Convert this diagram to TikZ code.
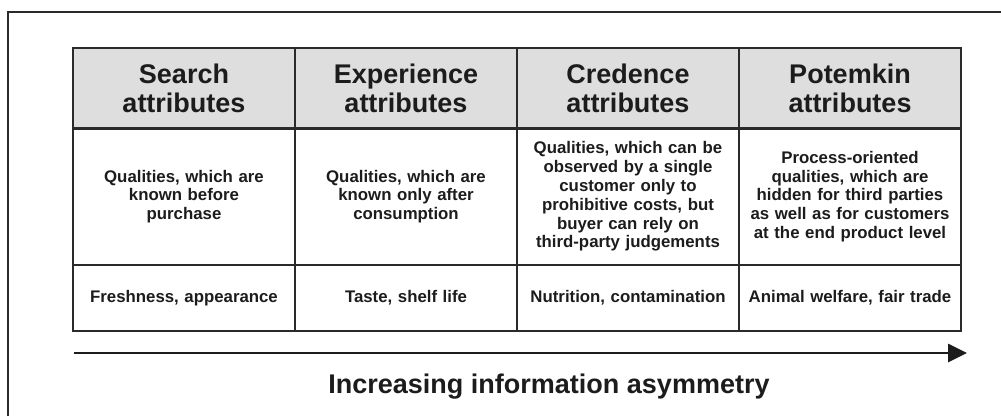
\documentclass[tikz,border=0pt]{standalone}
\usepackage{fontspec}
\setmainfont{Liberation Sans}
\usetikzlibrary{arrows.meta}
\definecolor{ink}{HTML}{1C1C1C}
\definecolor{rule}{HTML}{2A2A2A}
\definecolor{hdrfill}{HTML}{DEDEDE}
\begin{document}
\begin{tikzpicture}[x=1pt,y=-1pt,
  cell/.style={draw=rule,line width=1.3pt,inner sep=0pt,minimum width=222pt,text=ink,align=center,font=\bfseries},
  hdr/.style={cell,fill=hdrfill,minimum height=80pt,font=\fontsize{27}{29}\selectfont\bfseries},
  desc/.style={cell,minimum height=137pt,text width=214pt,font=\fontsize{16.8}{18.8}\selectfont\bfseries},
  ex/.style={cell,minimum height=66pt,text width=214pt,font=\fontsize{16.8}{18.8}\selectfont\bfseries},
  frameline/.style={draw=rule,line width=1.8pt},
  bigarrow/.style={draw=ink,line width=2.7pt,-{Triangle[length=19pt,width=18pt]}}
]
\useasboundingbox (0,0) rectangle (1001,416);
\fill[white] (0,0) rectangle (1001,416);
\draw[frameline] (8,416) -- (8,12) -- (1001,12);

\node[hdr] (h1) at (184,88) {Search\\attributes};
\node[hdr] (h2) at (406,88) {Experience\\attributes};
\node[hdr] (h3) at (628,88) {Credence\\attributes};
\node[hdr] (h4) at (850,88) {Potemkin\\attributes};

\node[desc] (d1) at (184,196.5) {Qualities, which are\\known before\\purchase};
\node[desc] (d2) at (406,196.5) {Qualities, which are\\known only after\\consumption};
\node[desc] (d3) at (628,196.5) {Qualities, which can be\\observed by a single\\customer only to\\prohibitive costs, but\\buyer can rely on\\third-party judgements};
\node[desc] (d4) at (850,196.5) {Process-oriented\\qualities, which are\\hidden for third parties\\as well as for customers\\at the end product level};

\node[ex] (e1) at (184,298) {Freshness, appearance};
\node[ex] (e2) at (406,298) {Taste, shelf life};
\node[ex] (e3) at (628,298) {Nutrition, contamination};
\node[ex] (e4) at (850,298) {Animal welfare, fair trade};

\draw[draw=rule,line width=2pt] (h1.south west) -- (h4.south east);

\coordinate (as) at (74,353);
\coordinate (ae) at (967,353);
\draw[bigarrow] (as) -- (ae);

\node[text=ink,inner sep=0pt,anchor=base,font=\fontsize{27}{29}\selectfont\bfseries] (lbl) at (549,393) {Increasing information asymmetry};
\end{tikzpicture}
\end{document}
